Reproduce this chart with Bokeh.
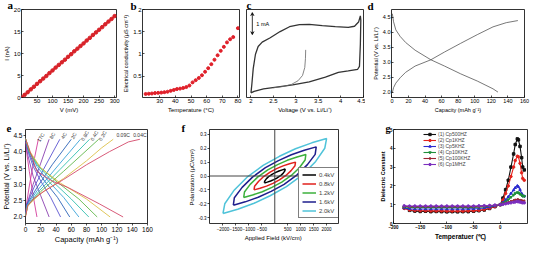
from bokeh.plotting import figure
from bokeh.layouts import row, column
from bokeh.models import (Label, Span, Arrow, VeeHead, FixedTicker,
                          PrintfTickFormatter, Range1d, ColumnDataSource)
from bokeh.core.properties import value
from bokeh.embed import file_html
from bokeh.resources import INLINE

SANS = "Liberation Sans"
SERIF = "Liberation Serif"

# ---------------- data ----------------
# (a) I-V curve
A_V = [0, 10, 20, 30, 40, 50, 60, 70, 80, 90, 100, 110, 120, 130, 140, 150, 160, 170, 180, 190,
       200, 210, 220, 230, 240, 250, 260, 270, 280, 290, 300]
A_I = [0.0, 0.6, 1.2, 1.85, 2.45, 3.1, 3.7, 4.3, 4.9, 5.55, 6.15, 6.8, 7.4, 8.0, 8.6, 9.25, 9.85,
       10.5, 11.1, 11.7, 12.3, 12.95, 13.55, 14.2, 14.8, 15.4, 16.0, 16.65, 17.25, 17.85, 18.5]

# (b) conductivity vs temperature
B_T = [21, 23, 25, 27, 29, 31, 33, 35, 37, 39, 41, 43, 45, 47, 49, 51, 53, 55, 57, 59,
       61, 63, 65, 67, 69, 71, 73, 75, 77, 80]
B_S = [0.10, 0.105, 0.11, 0.12, 0.125, 0.13, 0.14, 0.15, 0.17, 0.19, 0.21, 0.22, 0.235, 0.255,
       0.29, 0.36, 0.41, 0.46, 0.52, 0.60, 0.68, 0.77, 0.87, 0.97, 1.07, 1.16, 1.26, 1.33, 1.38, 1.58]

# (c) cyclic voltammogram (mA)
C_V_OUT = [2.00, 2.02, 2.05, 2.10, 2.16, 2.25, 2.43, 2.65, 2.86, 3.08, 3.30, 3.59, 3.88, 4.17, 4.31,
           4.40, 4.44, 4.45, 4.44, 4.42, 4.38, 4.17, 3.95, 3.66, 3.30, 2.93, 2.57, 2.28, 2.07, 2.00]
C_I_OUT = [-1.00, -0.60, 0.10, 0.75, 1.10, 1.30, 1.50, 1.78, 2.00, 2.09, 2.11, 2.05, 2.00, 1.97, 2.02,
           2.21, 2.49, 2.30, 1.20, 0.20, 0.07, 0.00, -0.07, -0.29, -0.50, -0.64, -0.74, -0.82, -0.93, -1.00]
C_V_IN = [3.22, 3.215, 3.20, 3.15, 3.05, 2.90, 2.72, 2.50]
C_I_IN = [0.95, 0.55, 0.15, -0.21, -0.45, -0.62, -0.71, -0.77]

# (d) charge / discharge
D_CHG_CAP = [0.5, 2, 4.7, 10, 16.5, 28, 47, 63.5, 83, 103, 122, 138, 152]
D_CHG_V = [1.98, 2.15, 2.30, 2.48, 2.66, 2.87, 3.08, 3.34, 3.63, 3.92, 4.18, 4.32, 4.39]
D_DIS_CAP = [0.5, 2, 4.7, 10, 16.5, 28, 47, 63.5, 83, 103, 122, 128]
D_DIS_V = [4.62, 4.35, 4.08, 3.86, 3.66, 3.40, 3.08, 2.87, 2.61, 2.37, 2.11, 2.00]

# (e) rate capability
E_RATES = ["17C", "8C", "4C", "2C", "0.8C", "0.4C", "0.2C", "0.09C", "0.04C"]
E_CHG_CAP = [[0, 1, 5, 10, 17],
             [0, 2, 10, 20, 31],
             [0, 2, 12, 28, 45],
             [0, 2, 15, 35, 60],
             [0, 2, 15, 40, 72],
             [0, 3, 18, 45, 84],
             [0, 3, 20, 50, 96],
             [0, 3, 20, 50, 80, 100, 115],
             [0, 3, 10, 25, 50, 80, 110, 135, 150]]
E_CHG_V = [[2.10, 2.35, 2.95, 3.60, 4.40],
           [2.10, 2.40, 3.00, 3.65, 4.38],
           [2.10, 2.40, 2.95, 3.65, 4.38],
           [2.08, 2.38, 2.90, 3.60, 4.38],
           [2.05, 2.35, 2.80, 3.50, 4.38],
           [2.05, 2.35, 2.80, 3.45, 4.38],
           [2.05, 2.35, 2.78, 3.40, 4.38],
           [2.03, 2.35, 2.72, 3.18, 3.72, 4.12, 4.38],
           [2.00, 2.35, 2.55, 2.80, 3.15, 3.60, 4.00, 4.30, 4.38]]
E_DIS_CAP = [[0, 2, 5, 10, 15],
             [0, 3, 10, 20, 31],
             [0, 4, 10, 20, 33, 46],
             [0, 5, 12, 25, 42, 58],
             [0, 5, 15, 30, 50, 70],
             [0, 5, 15, 35, 60, 83],
             [0, 5, 18, 40, 70, 94],
             [0, 6, 20, 45, 80, 111],
             [0, 6, 15, 35, 56, 97, 128]]
E_DIS_V = [[4.30, 3.90, 3.40, 2.65, 2.00],
           [4.30, 3.90, 3.25, 2.65, 2.00],
           [4.35, 3.95, 3.55, 3.10, 2.60, 2.00],
           [4.35, 3.95, 3.55, 3.10, 2.60, 2.00],
           [4.40, 4.00, 3.55, 3.10, 2.60, 2.00],
           [4.40, 4.00, 3.60, 3.10, 2.55, 2.00],
           [4.40, 4.00, 3.55, 3.10, 2.55, 2.00],
           [4.40, 4.00, 3.50, 3.05, 2.55, 2.00],
           [4.40, 4.00, 3.40, 3.10, 2.90, 2.40, 2.00]]

# (f) P-E loops
F_LEVELS = ["0.4kV", "0.8kV", "1.2kV", "1.6kV", "2.0kV"]
F_E = [[-400, -390, -320, -220, -90, 40, 160, 290, 400, 390, 320, 220, 90, -40, -160, -290, -400],
       [-800, -780, -630, -430, -180, 70, 320, 570, 800, 780, 630, 430, 180, -70, -320, -570, -800],
       [-1200, -1170, -950, -650, -270, 110, 480, 860, 1200, 1170, 950, 650, 270, -110, -480, -860, -1200],
       [-1600, -1560, -1260, -860, -360, 140, 640, 1140, 1600, 1560, 1260, 860, 360, -140, -640, -1140, -1600],
       [-2000, -1930, -1580, -1080, -450, 180, 800, 1430, 2000, 1930, 1580, 1080, 450, -180, -800, -1430, -2000]]
F_P = [[-0.05, -0.037, -0.019, -0.002, 0.014, 0.026, 0.036, 0.044, 0.05, 0.037, 0.019, 0.002, -0.014, -0.026, -0.036, -0.044, -0.05],
       [-0.10, -0.074, -0.039, -0.004, 0.028, 0.053, 0.073, 0.088, 0.10, 0.074, 0.039, 0.004, -0.028, -0.053, -0.073, -0.088, -0.10],
       [-0.155, -0.115, -0.060, -0.006, 0.044, 0.082, 0.113, 0.137, 0.155, 0.115, 0.060, 0.006, -0.044, -0.082, -0.113, -0.137, -0.155],
       [-0.21, -0.156, -0.082, -0.008, 0.060, 0.111, 0.153, 0.186, 0.21, 0.156, 0.082, 0.008, -0.060, -0.111, -0.153, -0.186, -0.21],
       [-0.27, -0.20, -0.105, -0.01, 0.077, 0.142, 0.196, 0.239, 0.27, 0.20, 0.105, 0.01, -0.077, -0.142, -0.196, -0.239, -0.27]]

# (g) dielectric constant vs temperature
G_T = [-180, -170, -160, -150, -140, -130, -120, -110, -100, -90, -80, -70, -60, -50, -40, -30,
       -20, -10, 0, 5, 10, 15, 20, 25, 28, 32, 34, 37, 40, 42, 45]
G_NAMES = ["(1) Cp500HZ", "(2) Cp1KHZ", "(3) Cp5KHZ", "(4) Cp10KHZ", "(5) Cp100KHZ", "(6) Cp1MHZ"]
G_500HZ = [0.85, 0.70, 0.66, 0.64, 0.65, 0.63, 0.64, 0.63, 0.62, 0.63, 0.62, 0.63, 0.63, 0.65, 0.68,
           0.72, 0.80, 0.90, 1.00, 1.35, 1.80, 2.30, 3.00, 3.70, 4.20, 4.50, 4.45, 4.10, 3.50, 3.00, 2.85]
G_1KHZ = [0.80, 0.72, 0.69, 0.68, 0.68, 0.67, 0.67, 0.67, 0.66, 0.66, 0.66, 0.66, 0.67, 0.68, 0.70,
          0.74, 0.81, 0.90, 1.00, 1.25, 1.60, 2.00, 2.50, 3.00, 3.35, 3.58, 3.55, 3.20, 2.70, 2.40, 2.30]
G_5KHZ = [0.82, 0.78, 0.77, 0.77, 0.77, 0.77, 0.77, 0.77, 0.77, 0.77, 0.77, 0.77, 0.78, 0.78, 0.80,
          0.83, 0.87, 0.93, 1.00, 1.12, 1.25, 1.42, 1.60, 1.78, 1.90, 2.00, 1.95, 1.80, 1.60, 1.50, 1.45]
G_10KHZ = [0.88, 0.85, 0.85, 0.85, 0.85, 0.85, 0.85, 0.85, 0.85, 0.85, 0.85, 0.85, 0.85, 0.86, 0.87,
           0.89, 0.92, 0.96, 1.00, 1.07, 1.15, 1.27, 1.40, 1.52, 1.60, 1.65, 1.63, 1.57, 1.50, 1.46, 1.45]
G_100KHZ = [0.92, 0.90, 0.90, 0.90, 0.90, 0.90, 0.90, 0.90, 0.90, 0.90, 0.90, 0.90, 0.90, 0.90, 0.91,
            0.93, 0.95, 0.97, 1.00, 1.04, 1.08, 1.13, 1.18, 1.22, 1.25, 1.27, 1.26, 1.24, 1.22, 1.20, 1.20]
G_1MHZ = [0.94, 0.93, 0.93, 0.93, 0.93, 0.93, 0.93, 0.93, 0.93, 0.93, 0.93, 0.93, 0.93, 0.93, 0.94,
          0.95, 0.96, 0.98, 1.00, 1.02, 1.05, 1.08, 1.10, 1.13, 1.15, 1.17, 1.16, 1.14, 1.12, 1.10, 1.10]
G_VALS = [G_500HZ, G_1KHZ, G_5KHZ, G_10KHZ, G_100KHZ, G_1MHZ]

# ---------------- styles ----------------
E_COLORS = ["#d33c9c", "#8a3fb0", "#5a54d0", "#2b63b8", "#3aa3d8", "#33c0b0", "#62b84c", "#dcc14a", "#d4486a"]
E_LBL_X = [19.9, 35, 50, 63, 77.7, 90, 101, 128, 150]
E_LBL_Y = [4.44, 4.49, 4.49, 4.49, 4.49, 4.49, 4.49, 4.51, 4.51]
E_LBL_A = [60, 60, 60, 60, 60, 60, 60, 0, 0]
F_COLORS = ["#000000", "#e0201c", "#3cb03c", "#1e1e8c", "#4fc3d9"]
G_COLORS = ["#111111", "#e4221b", "#2b2bd0", "#1f8f3a", "#9a2230", "#7b2fbe"]
G_MARKERS = ["square", "circle", "triangle", "inverted_triangle", "diamond", "circle"]


def base(w, h, xr, yr, bl, br, bt, bb):
    p = figure(width=w, height=h, x_range=Range1d(*xr), y_range=Range1d(*yr),
               output_backend="svg", toolbar_location=None,
               min_border_left=bl, min_border_right=br,
               min_border_top=bt, min_border_bottom=bb)
    p.xgrid.visible = False
    p.ygrid.visible = False
    p.outline_line_color = "black"
    p.outline_line_width = 0.8
    p.background_fill_color = "white"
    p.border_fill_color = "white"
    return p


def style_axis(ax, ticks, label, fs=6, ls=6, tin=2, tout=0, bold=False, lbold=False,
               tstand=1, lstand=1, fmt=None, overrides=None):
    ax.ticker = FixedTicker(ticks=ticks)
    ax.axis_label = label
    ax.axis_line_color = None
    ax.major_tick_in = tin
    ax.major_tick_out = tout
    ax.major_tick_line_color = "black"
    ax.major_tick_line_width = 0.7
    ax.minor_tick_line_color = None
    ax.major_label_text_font = SANS
    ax.major_label_text_font_size = f"{fs}px"
    ax.major_label_text_font_style = "bold" if bold else "normal"
    ax.major_label_text_color = "black"
    ax.major_label_standoff = tstand
    ax.axis_label_text_font = SANS
    ax.axis_label_text_font_size = f"{ls}px"
    ax.axis_label_text_font_style = "bold" if lbold else "normal"
    ax.axis_label_text_color = "black"
    ax.axis_label_standoff = lstand
    if fmt:
        ax.formatter = PrintfTickFormatter(format=fmt)
    if overrides:
        ax.major_label_overrides = overrides


def letter(p, txt, dx, standoff=-6, size=11):
    t = p.title
    t.text = txt
    t.align = "left"
    t.offset = dx
    t.standoff = standoff
    t.vertical_align = "top"
    t.text_font = SERIF
    t.text_font_style = "bold"
    t.text_font_size = f"{size}px"
    t.text_color = "black"


# ---------------- (a) ----------------
pa = base(120, 122, (0, 306), (0, 20), 15, 4, 9, 21)
pa.line(A_V, A_I, line_color="#d8232a", line_width=2)
pa.scatter(A_V, A_I, size=3.5, color="#d8232a")
style_axis(pa.below[0], [50, 100, 150, 200, 250, 300], "V (mV)")
style_axis(pa.left[0], [0, 5, 10, 15, 20], "I (nA)")
letter(pa, "a", -14)

# ---------------- (b) ----------------
pb = base(123, 122, (19, 81), (0.02, 2.0), 18, 4, 9, 21)
pb.scatter(B_T, B_S, size=3, color="#e0202a")
style_axis(pb.below[0], [30, 40, 50, 60, 70, 80], "Temperature (°C)")
style_axis(pb.left[0], [0.5, 1, 1.5, 2], "Electrical conductivity (μS cm⁻¹)", ls=5.5,
           overrides={0.5: "0.5", 1: "1", 1.5: "1.5", 2: "2"})
letter(pb, "b", -12, standoff=-9)

# ---------------- (c) ----------------
pc = base(122, 122, (1.9, 4.51), (-1.21, 2.78), 3, 2, 8, 25)
pc.line(C_V_OUT, C_I_OUT, line_color="#333333", line_width=1.3)
pc.line(C_V_IN, C_I_IN, line_color="#666666", line_width=0.8)
style_axis(pc.below[0], [2, 2.5, 3, 3.5, 4, 4.5], "Voltage (V vs. Li/Li⁺)",
           overrides={2: "2", 2.5: "2.5", 3: "3", 3.5: "3.5", 4: "4", 4.5: "4.5"})
pc.left[0].visible = False
pc.add_layout(Arrow(start=VeeHead(size=3, line_color="black", fill_color="black", line_width=0.7),
                    end=VeeHead(size=3, line_color="black", fill_color="black", line_width=0.7),
                    x_start=2.03, y_start=1.64, x_end=2.03, y_end=2.64,
                    line_color="black", line_width=0.8))
pc.add_layout(Label(x=2.12, y=2.14, text="1 mA", text_font=SANS, text_font_size="5.5px",
                    text_baseline="middle", text_align="left", text_color="black"))
letter(pc, "c", 0, standoff=-7)

# ---------------- (d) ----------------
pd_ = base(165, 122, (-0.5, 160), (1.82, 4.76), 26, 6, 8, 25)
pd_.line(D_CHG_CAP, D_CHG_V, line_color="#555555", line_width=0.8)
pd_.line(D_DIS_CAP, D_DIS_V, line_color="#555555", line_width=0.8)
style_axis(pd_.below[0], [0, 20, 40, 60, 80, 100, 120, 140, 160], "Capacity (mAh g⁻¹)", fs=5.5, ls=5.5)
style_axis(pd_.left[0], [2.0, 2.5, 3.0, 3.5, 4.0, 4.5], "Potential (V vs. Li/Li⁺)", fs=5.5, ls=5.5, fmt="%.1f")
letter(pd_, "d", -24, standoff=-9)

# ---------------- (e) ----------------
pe = base(177, 124, (0, 160), (1.8, 4.68), 19, 30, 7, 18)
for i in range(len(E_RATES)):
    pe.line(E_CHG_CAP[i], E_CHG_V[i], line_color=E_COLORS[i], line_width=0.9)
    pe.line(E_DIS_CAP[i], E_DIS_V[i], line_color=E_COLORS[i], line_width=0.9)
lbl_src = ColumnDataSource(dict(x=E_LBL_X, y=E_LBL_Y, t=E_RATES, a=E_LBL_A))
pe.text(x="x", y="y", text="t", angle="a", angle_units="deg", source=lbl_src,
        text_font=value(SANS), text_font_size="5px", text_align="center",
        text_baseline="middle", text_color="#333333")
style_axis(pe.below[0], [0, 20, 40, 60, 80, 100, 120, 140, 160], "Capacity (mAh g⁻¹)",
           fs=6.5, ls=7.5, tin=0, tout=2, lstand=0)
style_axis(pe.left[0], [2.0, 2.5, 3.0, 3.5, 4.0, 4.5], "Potential (V vs. Li/Li⁺)",
           fs=6.5, ls=7, tin=0, tout=2, lstand=0, fmt="%.1f")
letter(pe, "e", -19, standoff=-8)

# ---------------- (f) ----------------
pf = base(198, 124, (-2520, 2460), (-0.342, 0.335), 32, 37, 7, 16)
pf.add_layout(Span(location=0, dimension="height", line_color="#444444", line_width=1))
pf.add_layout(Span(location=0, dimension="width", line_color="#444444", line_width=1))
for name, col, E, P in zip(F_LEVELS, F_COLORS, F_E, F_P):
    pf.line(E, P, line_color=col, line_width=1.5, legend_label=name)
style_axis(pf.below[0], [-2000, -1500, -1000, -500, 500, 1000, 1500, 2000], "Applied Field  (kV/cm)",
           fs=4.5, ls=6, tin=0, tout=2)
style_axis(pf.left[0], [-0.3, -0.2, -0.1, 0.0, 0.1, 0.2, 0.3], "Polarization  (μC/cm²)",
           fs=4.5, ls=6, tin=0, tout=2, fmt="%.1f")
lg = pf.legend[0]
lg.location = (89, 5)
lg.border_line_color = "black"
lg.border_line_width = 0.8
lg.background_fill_color = "white"
lg.background_fill_alpha = 1
lg.label_text_font = SANS
lg.label_text_font_size = "6px"
lg.glyph_width = 14
lg.glyph_height = 7
lg.label_height = 7
lg.spacing = 2
lg.padding = 3
lg.margin = 0
lg.label_standoff = 3
letter(pf, "f", -28, standoff=-13)

# ---------------- (g) ----------------
pg = base(155, 124, (-200, 51), (0, 5), 18, 3, 4, 17)
for name, col, mk, vals in zip(G_NAMES, G_COLORS, G_MARKERS, G_VALS):
    pg.line(G_T, vals, line_color=col, line_width=1.1, legend_label=name)
    pg.scatter(G_T, vals, marker=mk, size=2.5, line_color=col, fill_color=col, legend_label=name)
style_axis(pg.below[0], [-200, -150, -100, -50, 0], "Temperatuer (℃)",
           fs=4.5, ls=6.5, tin=2, tout=0, bold=True, lbold=True)
style_axis(pg.left[0], [0, 1, 2, 3, 4, 5], "Dielectric Constant",
           fs=4.5, ls=5.5, tin=2, tout=0, bold=True, lbold=True)
lg2 = pg.legend[0]
lg2.location = (30, 56)
lg2.border_line_color = None
lg2.background_fill_alpha = 0
lg2.label_text_font = SANS
lg2.label_text_font_size = "5px"
lg2.glyph_width = 13
lg2.glyph_height = 6
lg2.label_height = 6
lg2.spacing = 0
lg2.padding = 0
lg2.margin = 0
lg2.label_standoff = 2
letter(pg, "g", -8, standoff=-12, size=10)

layout = column(row(pa, pb, pc, pd_), row(pe, pf, pg))
open("out.html", "w").write(file_html(layout, INLINE))
